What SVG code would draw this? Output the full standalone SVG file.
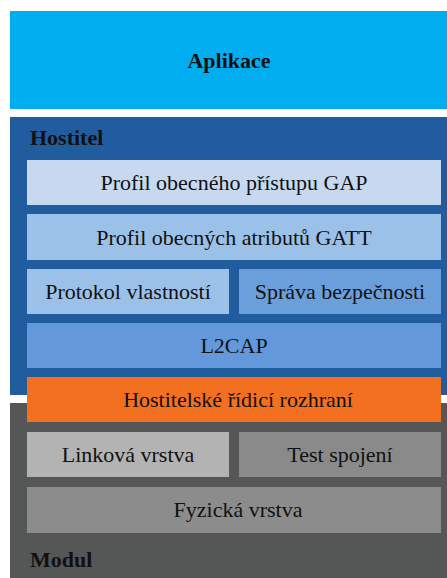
<svg xmlns="http://www.w3.org/2000/svg" width="447" height="578" viewBox="0 0 447 578">
<style>
text{font-size:22px;fill:#111;text-anchor:middle}
.b{font-weight:bold}
.l{text-anchor:start}
</style>
<rect width="447" height="578" fill="#fff"/>
<g font-family="Liberation Serif, serif">
<g id="aplikace"><rect x="10" y="11" width="437" height="98" fill="#00aeef"/><text class="b" x="229" y="68">Aplikace</text></g>
<g id="hostitel"><rect x="10" y="117" width="437" height="278" fill="#215c9f"/><text class="b l" x="30" y="145">Hostitel</text></g>
<g id="modul"><rect x="10" y="403" width="437" height="175" fill="#555656"/><text class="b l" x="30" y="567">Modul</text></g>
<g id="gap"><rect x="27" y="160" width="414" height="45" fill="#c6d9f0"/><text x="234" y="190">Profil obecného přístupu GAP</text></g>
<g id="gatt"><rect x="27" y="214" width="414" height="46" fill="#9cc1e8"/><text x="234" y="245">Profil obecných atributů GATT</text></g>
<g id="protokol"><rect x="27" y="269" width="202" height="45" fill="#9cc1e8"/><text x="128" y="299">Protokol vlastností</text></g>
<g id="sprava"><rect x="239" y="269" width="202" height="45" fill="#6a9fdc"/><text x="340" y="299">Správa bezpečnosti</text></g>
<g id="l2cap"><rect x="27" y="323" width="414" height="45" fill="#6399db"/><text x="234" y="353">L2CAP</text></g>
<g id="hci"><rect x="27" y="377" width="414" height="45" fill="#f37021"/><text x="238" y="407">Hostitelské řídicí rozhraní</text></g>
<g id="linkova"><rect x="27" y="432" width="202" height="45" fill="#b3b3b3"/><text x="128" y="462">Linková vrstva</text></g>
<g id="test"><rect x="239" y="432" width="202" height="45" fill="#8a8a8a"/><text x="340" y="462">Test spojení</text></g>
<g id="fyzicka"><rect x="27" y="487" width="414" height="46" fill="#8c8c8c"/><text x="238" y="517">Fyzická vrstva</text></g>
</g>
<g id="connectors"/>
</svg>
